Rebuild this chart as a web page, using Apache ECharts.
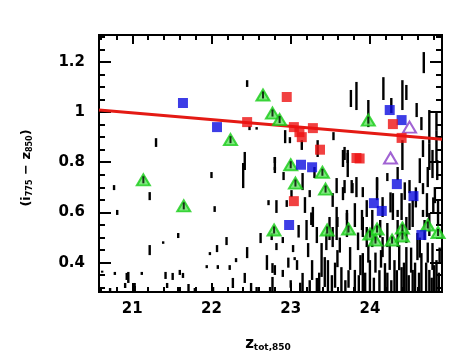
<!DOCTYPE html>
<html lang="en">
<head>
    <meta charset="UTF-8">
    <title>colour magnitude</title>
    <style>
        html,body{ margin:0; height:100%; background:#fff; }
        #main{ width:463px; height:360px; }
    </style>
</head>
<body>
<script src="https://cdn.jsdelivr.net/npm/echarts@6/dist/echarts.min.js"></script>
<div id="main"></div>
<script>
    // axis ranges and ticks
    var xRange = [20.58, 24.91];
    var yRange = [0.283, 1.307];
    var xLabels = [21, 22, 23, 24];
    var yLabels = [0.4, 0.6, 0.8, 1, 1.2];

    // red fit line (end points)
    var fitLine = [[20.58, 1.008], [24.91, 0.892]];

    // coloured samples
    var blueSq = [[21.64, 1.036], [22.07, 0.94], [22.98, 0.55], [23.13, 0.79], [23.27, 0.78],
        [24.25, 1.008], [24.4, 0.968], [24.34, 0.713], [24.55, 0.665], [24.05, 0.637],
        [24.15, 0.606], [24.65, 0.51]];
    var redSq = [[22.45, 0.96], [22.95, 1.06], [23.04, 0.94], [23.11, 0.92], [23.14, 0.9],
        [23.28, 0.936], [23.37, 0.85], [23.83, 0.817], [23.87, 0.815], [24.29, 0.952],
        [24.4, 0.897], [23.04, 0.645]];
    var purpleTri = [[24.5, 0.94], [24.26, 0.817]];
    var greenTri = [[21.14, 0.73], [21.65, 0.626], [22.24, 0.89], [22.65, 1.068], [22.77, 0.996],
        [22.86, 0.97], [23.98, 0.968], [22.79, 0.53], [23.0, 0.79], [23.4, 0.76], [23.06, 0.717],
        [23.44, 0.693], [23.46, 0.53], [23.73, 0.534], [24.0, 0.514], [24.09, 0.534],
        [24.07, 0.49], [24.28, 0.49], [24.41, 0.538], [24.41, 0.506], [24.73, 0.55], [24.86, 0.52]];

    // black field objects: [x, yLow, yHigh]
    var field = [
        [22.45, 1.100, 1.127], [21.30, 0.861, 0.896], [22.48, 0.928, 0.944], [22.57, 0.930, 0.940],
        [22.42, 0.769, 0.841], [22.80, 0.769, 0.821],
        [20.77, 0.689, 0.709], [21.22, 0.649, 0.681], [20.81, 0.590, 0.610], [22.00, 0.737, 0.761],
        [22.04, 0.602, 0.625], [22.40, 0.697, 0.797], [22.72, 0.629, 0.649], [21.58, 0.498, 0.518],
        [21.22, 0.430, 0.470], [21.39, 0.475, 0.485], [22.19, 0.470, 0.502], [22.07, 0.442, 0.470],
        [21.98, 0.430, 0.442], [22.45, 0.418, 0.462], [22.31, 0.402, 0.418], [22.62, 0.478, 0.518],
        [22.76, 0.490, 0.518], [22.70, 0.371, 0.430], [22.77, 0.359, 0.398], [22.23, 0.371, 0.390],
        [22.08, 0.375, 0.390], [21.94, 0.378, 0.390], [22.42, 0.319, 0.359], [22.27, 0.299, 0.339],
        [20.78, 0.351, 0.363], [20.93, 0.331, 0.359], [21.12, 0.351, 0.363], [21.42, 0.335, 0.363],
        [21.51, 0.331, 0.359], [21.60, 0.351, 0.371], [21.64, 0.339, 0.359], [20.91, 0.299, 0.319],
        [21.03, 0.287, 0.307], [21.44, 0.299, 0.319], [21.58, 0.287, 0.303], [21.71, 0.287, 0.315],
        [21.79, 0.283, 0.299], [22.02, 0.283, 0.303], [22.50, 0.283, 0.319], [22.57, 0.283, 0.303],
        [22.74, 0.283, 0.303], [22.80, 0.351, 0.390],
        [20.62, 0.362, 0.368], [20.95, 0.319, 0.363], [21.03, 0.283, 0.319], [20.72, 0.283, 0.299],
        [24.68, 1.155, 1.239], [24.17, 1.048, 1.139], [24.41, 1.008, 1.127], [24.46, 1.048, 1.108],
        [23.98, 0.940, 1.048], [23.83, 1.008, 1.120], [23.76, 1.020, 1.088], [23.54, 0.888, 0.920],
        [24.27, 0.996, 1.056], [24.59, 0.980, 1.036], [24.75, 0.876, 1.008], [24.84, 0.928, 0.996],
        [24.65, 0.928, 0.980], [22.93, 0.876, 0.928], [22.99, 0.876, 0.900], [23.14, 0.849, 0.888],
        [23.34, 0.821, 0.888], [23.68, 0.809, 0.861], [23.72, 0.797, 0.849], [24.41, 0.769, 0.888],
        [24.67, 0.821, 0.888], [24.75, 0.769, 0.876], [24.84, 0.797, 0.928], [22.80, 0.797, 0.821],
        [22.80, 0.757, 0.781], [22.91, 0.729, 0.761], [23.01, 0.661, 0.689], [23.15, 0.689, 0.757],
        [23.18, 0.598, 0.661], [23.24, 0.661, 0.689], [22.82, 0.450, 0.478], [22.90, 0.478, 0.502],
        [23.03, 0.442, 0.470], [23.05, 0.410, 0.422], [23.20, 0.490, 0.570], [23.22, 0.422, 0.478],
        [23.28, 0.542, 0.622], [23.33, 0.478, 0.542], [23.39, 0.343, 0.478], [23.43, 0.303, 0.422],
        [23.47, 0.283, 0.410], [23.53, 0.462, 0.542], [23.58, 0.490, 0.622], [23.59, 0.382, 0.450],
        [23.64, 0.283, 0.382], [23.71, 0.502, 0.598], [23.75, 0.371, 0.462], [23.81, 0.283, 0.371],
        [23.83, 0.661, 0.741], [23.90, 0.530, 0.610], [23.91, 0.283, 0.438], [23.96, 0.462, 0.542],
        [24.00, 0.283, 0.410], [24.03, 0.542, 0.610], [24.09, 0.649, 0.741], [24.16, 0.422, 0.502],
        [24.19, 0.283, 0.398], [24.25, 0.371, 0.478], [24.29, 0.570, 0.677], [24.31, 0.283, 0.410],
        [24.35, 0.462, 0.570], [24.40, 0.283, 0.382], [24.46, 0.283, 0.462], [24.50, 0.530, 0.637],
        [24.54, 0.283, 0.371], [24.60, 0.410, 0.518], [24.65, 0.283, 0.438], [24.69, 0.490, 0.570],
        [24.75, 0.283, 0.371], [24.79, 0.371, 0.478], [24.84, 0.283, 0.410], [24.85, 0.729, 0.809],
        [24.82, 0.637, 0.701], [24.73, 0.701, 0.781], [24.72, 0.582, 0.677], [23.66, 0.649, 0.701],
        [23.77, 0.677, 0.729], [22.82, 0.598, 0.649], [22.95, 0.622, 0.649], [23.08, 0.371, 0.410],
        [22.90, 0.343, 0.371], [22.77, 0.287, 0.343], [23.15, 0.283, 0.359], [23.27, 0.331, 0.410],
        [23.33, 0.283, 0.339], [23.49, 0.490, 0.582], [23.72, 0.741, 0.797], [23.30, 0.737, 0.781],
        [23.53, 0.622, 0.677],
        [23.66, 0.781, 0.849], [23.72, 0.797, 0.837], [23.58, 0.677, 0.737], [23.68, 0.677, 0.729],
        [23.78, 0.677, 0.717], [23.91, 0.661, 0.701], [24.09, 0.689, 0.737], [24.22, 0.725, 0.757],
        [24.35, 0.729, 0.781], [24.63, 0.717, 0.816], [24.67, 0.673, 0.717], [24.79, 0.737, 0.849],
        [24.50, 0.677, 0.729], [24.40, 0.570, 0.677], [24.54, 0.542, 0.649], [24.67, 0.582, 0.610],
        [24.35, 0.582, 0.610], [24.16, 0.582, 0.661], [23.96, 0.582, 0.649], [23.81, 0.542, 0.637],
        [23.71, 0.570, 0.610], [23.59, 0.542, 0.582], [23.91, 0.502, 0.582], [24.03, 0.462, 0.542],
        [24.22, 0.462, 0.558], [24.46, 0.478, 0.582], [24.75, 0.506, 0.598],
        [23.36, 0.283, 0.360], [23.52, 0.283, 0.350], [23.56, 0.300, 0.400], [23.69, 0.283, 0.330],
        [23.73, 0.300, 0.370], [23.86, 0.283, 0.350], [23.88, 0.350, 0.430], [23.94, 0.283, 0.360],
        [24.05, 0.283, 0.340], [24.07, 0.360, 0.440], [24.12, 0.283, 0.370], [24.14, 0.380, 0.450],
        [24.22, 0.283, 0.360], [24.27, 0.283, 0.330], [24.34, 0.283, 0.370], [24.37, 0.370, 0.470],
        [24.43, 0.283, 0.400], [24.49, 0.283, 0.350], [24.52, 0.360, 0.460], [24.57, 0.283, 0.400],
        [24.62, 0.283, 0.360], [24.63, 0.420, 0.500], [24.71, 0.283, 0.400], [24.73, 0.400, 0.480],
        [24.78, 0.283, 0.340], [24.81, 0.283, 0.390], [24.87, 0.283, 0.360], [24.88, 0.400, 0.460],
        [24.86, 0.550, 0.650], [24.80, 0.600, 0.660], [24.58, 0.620, 0.700], [24.44, 0.650, 0.720],
        [24.26, 0.600, 0.680], [24.13, 0.500, 0.570], [23.98, 0.400, 0.470], [23.85, 0.450, 0.520],
        [23.62, 0.440, 0.500], [23.45, 0.450, 0.520], [23.26, 0.550, 0.600], [23.10, 0.500, 0.550],
        [23.00, 0.300, 0.330], [22.97, 0.380, 0.420], [23.12, 0.283, 0.320], [23.24, 0.283, 0.330]
    ];

    // minor tick positions
    var xMinor = [], yMinor = [];
    for (var i = 103; i <= 124; i++) xMinor.push(+(i * 0.2).toFixed(1));
    for (var j = 6; j <= 26; j++) yMinor.push(+(j * 0.05).toFixed(2));

    var font = 'DejaVu Sans';

    function makeX(pos, ticks, len, labels) {
        return {
            type: 'value', position: pos, min: xRange[0], max: xRange[1],
            axisLine: {show: true, onZero: false, lineStyle: {color: '#000', width: 2}},
            splitLine: {show: false},
            axisTick: {show: true, inside: true, length: len, customValues: ticks,
                lineStyle: {color: '#000', width: 2}},
            axisLabel: labels ? {customValues: labels, margin: 10, color: '#000',
                fontFamily: font, fontWeight: 'bold', fontSize: 15} : {show: false}
        };
    }
    function makeY(pos, ticks, len, labels) {
        return {
            type: 'value', position: pos, min: yRange[0], max: yRange[1],
            axisLine: {show: true, onZero: false, lineStyle: {color: '#000', width: 2}},
            splitLine: {show: false},
            axisTick: {show: true, inside: true, length: len, customValues: ticks,
                lineStyle: {color: '#000', width: 2}},
            axisLabel: labels ? {customValues: labels, margin: 14, color: '#000',
                fontFamily: font, fontWeight: 'bold', fontSize: 15} : {show: false}
        };
    }

    var chart = echarts.init(document.getElementById('main'));
    var option = {
        animation: false,
        backgroundColor: '#fff',
        grid: {left: 99, right: 21, top: 35, bottom: 68},
        xAxis: [
            makeX('bottom', xLabels, 9, xLabels),
            makeX('bottom', xMinor, 5, null),
            makeX('top', xLabels, 9, null),
            makeX('top', xMinor, 5, null)
        ],
        yAxis: [
            makeY('left', yLabels, 12, yLabels),
            makeY('left', yMinor, 6, null),
            makeY('right', yLabels, 12, null),
            makeY('right', yMinor, 6, null)
        ],
        graphic: [
            {
                type: 'text', x: 27, y: 168, rotation: Math.PI / 2,
                style: {
                    text: '(i{s|775} \u2212 z{s|850})',
                    fill: '#000', font: 'bold 13px "DejaVu Sans"',
                    align: 'center', verticalAlign: 'middle',
                    rich: {s: {fontSize: 8, fontWeight: 'bold', fontFamily: font, padding: [6, 0, 0, 0]}}
                }
            },
            {
                type: 'text', x: 268, y: 344,
                style: {
                    text: 'z{s|tot,850}',
                    fill: '#000', font: 'bold 15px "DejaVu Sans"',
                    align: 'center', verticalAlign: 'middle',
                    rich: {s: {fontSize: 9, fontWeight: 'bold', fontFamily: font, padding: [8, 0, 0, 0]}}
                }
            }
        ],
        series: [
            {
                type: 'custom',
                clip: true,
                data: field,
                renderItem: function (params, api) {
                    var lo = api.coord([api.value(0), api.value(1)]);
                    var hi = api.coord([api.value(0), api.value(2)]);
                    return {
                        type: 'rect',
                        shape: {x: lo[0] - 1.2, y: hi[1], width: 2.4, height: Math.max(lo[1] - hi[1], 2)},
                        style: {fill: '#000'}
                    };
                },
                z: 1
            },
            {
                type: 'line',
                data: fitLine,
                symbol: 'none',
                lineStyle: {color: '#e41a14', width: 3},
                z: 2
            },
            {
                type: 'scatter',
                data: greenTri,
                symbol: 'triangle',
                symbolSize: [13, 11],
                itemStyle: {color: '#5fe35f', borderColor: '#18cc18', borderWidth: 2},
                z: 3
            },
            {
                type: 'scatter',
                data: greenTri,
                symbol: 'rect',
                symbolSize: [2, 7],
                itemStyle: {color: '#000'},
                z: 4
            },
            {
                type: 'scatter',
                data: purpleTri,
                symbol: 'triangle',
                symbolSize: [13, 11],
                itemStyle: {color: '#fff', borderColor: '#8a3cc8', borderWidth: 2},
                z: 3
            },
            {
                type: 'scatter',
                data: blueSq,
                symbol: 'rect',
                symbolSize: 10,
                itemStyle: {color: '#0c0ce0'},
                z: 5
            },
            {
                type: 'scatter',
                data: redSq,
                symbol: 'rect',
                symbolSize: 10,
                itemStyle: {color: '#ee1111'},
                z: 5
            }
        ]
    };
    chart.setOption(option);
</script>
</body>
</html>
